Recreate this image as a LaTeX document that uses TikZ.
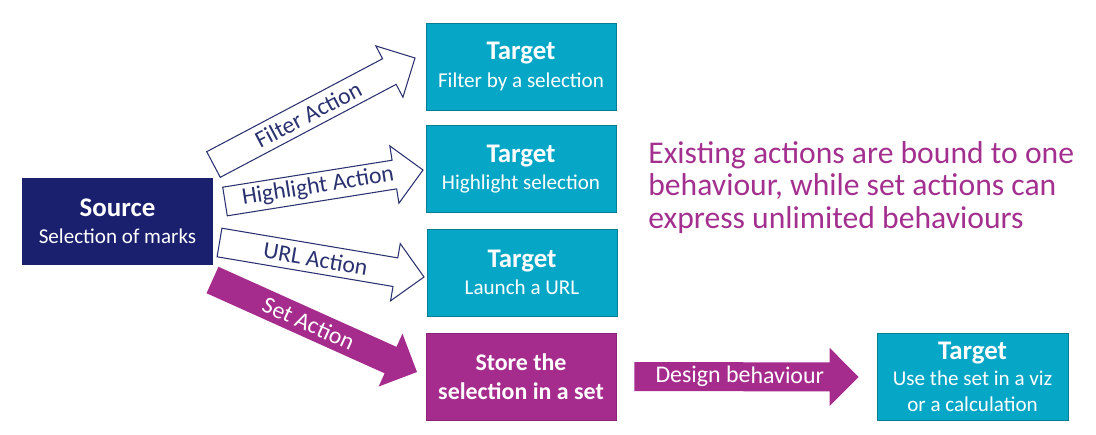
\documentclass[tikz,border=0pt]{standalone}
\usepackage{fontspec}
\setmainfont{Carlito}
\usetikzlibrary{calc}
\definecolor{srcblue}{HTML}{1A1F6E}
\definecolor{tgtteal}{HTML}{05A6C6}
\definecolor{setpurple}{HTML}{A52C8C}
\definecolor{msgpurple}{HTML}{A3308F}
\definecolor{linenavy}{HTML}{2B3270}
\newcommand{\boxtitle}[1]{{\fontsize{15.3}{15.5}\selectfont\bfseries #1}}
\begin{document}
\begin{tikzpicture}[
    box/.style={minimum width=3.8cm, minimum height=1.74cm, inner sep=0pt, align=center, text=white, font=\fontsize{12}{15.5}\selectfont},
    srcbox/.style={box, fill=srcblue, minimum width=3.82cm},
    tgtbox/.style={box, fill=tgtteal, draw=tgtteal!75!black, line width=0.4pt},
    setbox/.style={box, fill=setpurple, draw=setpurple!85!black, line width=0.4pt, font=\fontsize{13.6}{16.5}\selectfont\bfseries},
    blockarrow/.style={to path={
        ($(\tikztostart)!0.29cm!90:(\tikztotarget)$)
        -- ($(\tikztotarget)!0.58cm!(\tikztostart)!0.29cm!90:(\tikztotarget)$)
        -- ($(\tikztotarget)!0.58cm!(\tikztostart)!0.58cm!90:(\tikztotarget)$)
        -- (\tikztotarget)
        -- ($(\tikztotarget)!0.58cm!(\tikztostart)!0.58cm!-90:(\tikztotarget)$)
        -- ($(\tikztotarget)!0.58cm!(\tikztostart)!0.29cm!-90:(\tikztotarget)$)
        -- ($(\tikztostart)!0.29cm!-90:(\tikztotarget)$) -- cycle}},
    outarrow/.style={blockarrow, draw=linenavy, line width=0.6pt, fill=white},
    fillarrow/.style={blockarrow, fill=setpurple},
    lbl/.style={font=\fontsize{13.5}{16}\selectfont, inner sep=0pt, sloped, pos=0.47}
]
    \useasboundingbox (0,0) rectangle (21.92,8.68);
    % Nodi
    \node[srcbox] (src) at (2.35,4.25) {\boxtitle{Source}\\Selection of marks};
    \node[tgtbox] (filt) at (10.42,7.35) {\boxtitle{Target}\\Filter by a selection};
    \node[tgtbox] (high) at (10.42,5.30) {\boxtitle{Target}\\Highlight selection};
    \node[tgtbox] (url) at (10.44,3.23) {\boxtitle{Target}\\Launch a URL};
    \node[setbox] (store) at (10.42,1.15) {Store the\\selection in a set};
    \node[tgtbox, minimum width=3.82cm, font=\fontsize{12}{14.8}\selectfont] (use) at (19.45,1.14) {\boxtitle{Target}\\Use the set in a viz\\or a calculation};
    \node[anchor=north west, align=left, inner sep=0pt, text=msgpurple, font=\fontsize{18}{18.5}\selectfont] (msg) at (12.96,5.86) {Existing actions are bound to one\\behaviour, while set actions can\\express unlimited behaviours};
    % Estremi delle frecce
    \coordinate (ft) at (4.27,5.39);
    \coordinate (fh) at (8.30,7.52);
    \coordinate (ht) at (4.50,4.65);
    \coordinate (hh) at (8.46,5.28);
    \coordinate (ut) at (4.39,3.83);
    \coordinate (uh) at (8.48,3.14);
    \coordinate (st) at (4.25,3.08);
    \coordinate (sh) at (8.34,1.24);
    \coordinate (dt) at ($(store.east)+(0.36,0)$);
    \coordinate (dh) at ($(use.west)-(0.36,0)$);
    % Frecce
    \draw[outarrow] (ft) to (fh);
    \path (ft) -- (fh) node[lbl, text=linenavy] {Filter Action};
    \draw[outarrow] (ht) to (hh);
    \path (ht) -- (hh) node[lbl, text=linenavy] {Highlight Action};
    \draw[outarrow] (ut) to (uh);
    \path (ut) -- (uh) node[lbl, text=linenavy] {URL Action};
    \fill[fillarrow] (st) to (sh);
    \path (st) -- (sh) node[lbl, text=white] {Set Action};
    \fill[fillarrow] (dt) to (dh);
    \path (dt) -- (dh) node[lbl, text=white, font=\fontsize{13.6}{16}\selectfont] {Design behaviour};
\end{tikzpicture}
\end{document}
